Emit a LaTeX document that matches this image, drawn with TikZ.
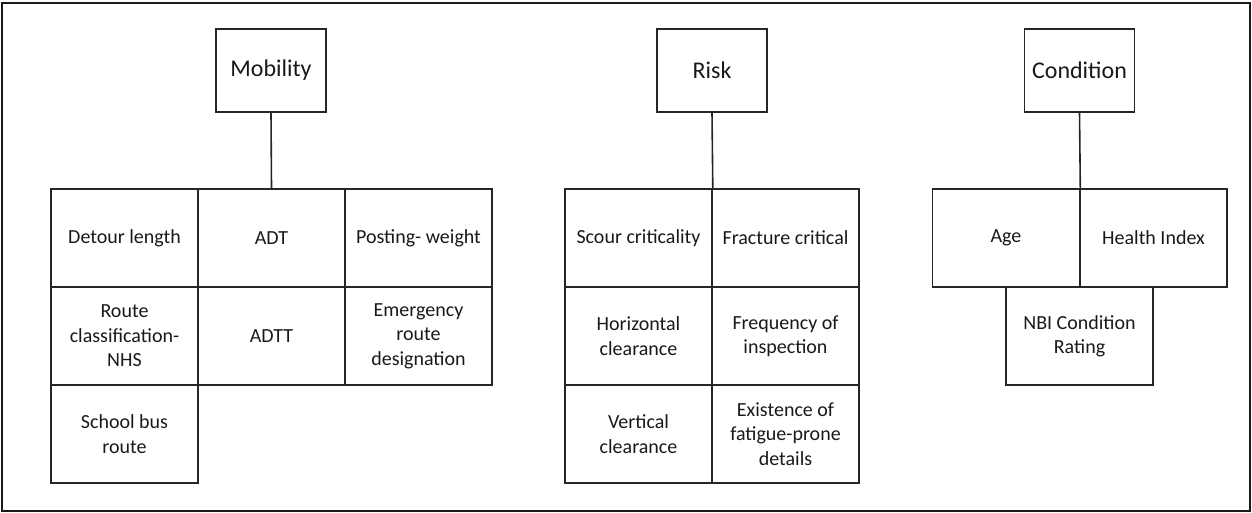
\documentclass[tikz,border=0pt]{standalone}
\usepackage{fontspec}
\setmainfont{Carlito}
\begin{document}
\begin{tikzpicture}[x=1pt,y=-1pt,
  line join=miter,
  title/.style={draw=black!85, line width=1.6pt, minimum width=110pt, minimum height=83pt, inner sep=0pt, font=\fontsize{24}{29}\selectfont, text=black!90},
  cell/.style={draw=black!85, line width=1.6pt, minimum width=147pt, minimum height=98pt, inner sep=0pt, align=center, font=\fontsize{20}{24.4}\selectfont, text=black!90},
  link/.style={draw=black!85, line width=1.6pt}]
\useasboundingbox (0,0) rectangle (1252,513);
\draw[line width=2pt, black!90] (2,3) rectangle (1250,511);

% Mobility
\node[title] (mob) at (271,70.5) {Mobility};
\node[cell] (detour) at (124.5,238) {Detour length};
\node[cell] (adt) at (271.5,238) {ADT};
\node[cell] (posting) at (418.5,238) {Posting- weight};
\node[cell] (route) at (124.5,336) {Route\\classification-\\NHS};
\node[cell] (adtt) at (271.5,336) {ADTT};
\node[cell] (emerg) at (418.5,336) {Emergency\\route\\designation};
\node[cell] (school) at (124.5,434) {School bus\\route};
\draw[link] (mob.south) -- (adt.north);

% Risk
\node[title] (risk) at (712,70.5) {Risk};
\node[cell] (scour) at (638.5,238) {Scour criticality};
\node[cell] (fract) at (785.5,238) {Fracture critical};
\node[cell] (horiz) at (638.5,336) {Horizontal\\clearance};
\node[cell] (freq) at (785.5,336) {Frequency of\\inspection};
\node[cell] (vert) at (638.5,434) {Vertical\\clearance};
\node[cell] (exist) at (785.5,434) {Existence of\\fatigue-prone\\details};
\draw[link] (risk.south) -- (scour.north east);

% Condition
\node[title] (cond) at (1079.5,70.5) {Condition};
\node[cell] (age) at (1006,238) {Age};
\node[cell] (health) at (1153.5,238) {Health Index};
\node[cell] (nbi) at (1079.5,336) {NBI Condition\\Rating};
\draw[link] (cond.south) -- (age.north east);
\end{tikzpicture}
\end{document}
